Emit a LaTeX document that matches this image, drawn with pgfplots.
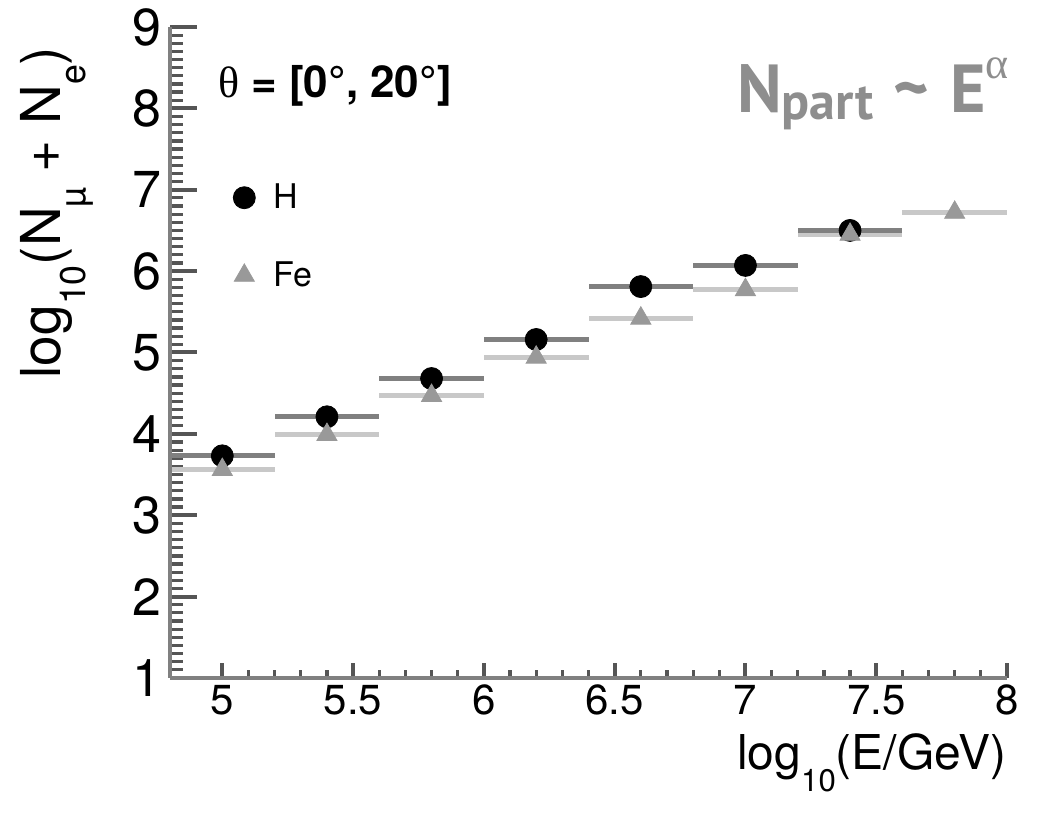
\documentclass[border=0pt]{standalone}
\usepackage{fontspec}
\setmainfont{TeX Gyre Heros}
\newfontfamily\gill{PT Sans}
\newfontfamily\symf{Liberation Serif}
\usepackage{graphicx}
\usepackage{pgfplots}
\usepackage{pgfplotstable}
\pgfplotsset{compat=1.18}
\definecolor{hbar}{HTML}{808080}
\definecolor{febar}{HTML}{C8C8C8}
\definecolor{femark}{HTML}{999999}
\definecolor{axgray}{HTML}{808080}
\definecolor{tickgray}{HTML}{555555}
\definecolor{txtgray}{HTML}{8E8E8E}
\newcommand{\lsub}[1]{\raisebox{-0.45em}{\scalebox{0.65}{#1}}}

\pgfplotstableread{
x y ex
5.0 3.73 0.2
5.4 4.21 0.2
5.8 4.68 0.2
6.2 5.16 0.2
6.6 5.81 0.2
7.0 6.07 0.2
7.4 6.50 0.2
}\Hdata
\pgfplotstableread{
x y ex
5.0 3.56 0.2
5.4 3.99 0.2
5.8 4.47 0.2
6.2 4.94 0.2
6.6 5.42 0.2
7.0 5.77 0.2
7.4 6.45 0.2
7.8 6.72 0.2
}\Fedata

\begin{document}
\begin{tikzpicture}
\begin{axis}[
  scale only axis, width=418.5pt, height=325.5pt,
  xmin=4.8, xmax=8, ymin=1, ymax=9,
  axis lines=left, axis line style={-, axgray, line width=2pt},
  tick align=inside,
  xtick=\empty,
  ytick={1,2,...,9}, minor y tick num=9,
  major tick length=13.5pt, minor tick length=6.5pt,
  major tick style={tickgray, line width=2pt},
  minor tick style={tickgray, line width=1.6pt},
  /pgf/number format/assume math mode=true,
  yticklabel style={font=\fontsize{26}{30}\selectfont, xshift=-1pt},
  ylabel={log\lsub{10}(N\lsub{µ} + N\lsub{e})},
  ylabel style={at={(axis description cs:-0.135,0.715)}, anchor=center, font=\fontsize{27.5}{32}\selectfont},
  legend style={at={(axis description cs:0.068,0.772)}, anchor=north west, draw=none, fill=none,
    font=\fontsize{17}{20}\selectfont, row sep=21pt, column sep=7pt, cells={anchor=west}},
  legend cell align=left,
]
\coordinate (ll) at (rel axis cs:0,0);
\coordinate (ur) at (rel axis cs:1,1);
\addplot[forget plot, only marks, mark=none,
  error bars/.cd, x dir=both, x explicit, error mark=none,
  error bar style={draw=febar, line width=2.6pt}]
  table[x=x, y=y, x error=ex]{\Fedata};
\addplot[only marks, mark=*, mark size=5.5pt, mark options={fill=black, draw=black},
  error bars/.cd, x dir=both, x explicit, error mark=none,
  error bar style={draw=hbar, line width=2.6pt}]
  table[x=x, y=y, x error=ex]{\Hdata};
\addlegendentry{H}
\addplot[only marks, mark=triangle*, mark size=5.8pt, mark options={fill=femark, draw=femark}]
  table[x=x, y=y]{\Fedata};
\addlegendentry{Fe}
\node[anchor=base west, inner sep=0, font=\bfseries\fontsize{22}{26}\selectfont]
  at (axis description cs:0.057,0.891) {{\mdseries\symf θ} = [0°, 20°]};
\node[anchor=base west, inner sep=0, text=txtgray, font=\gill\bfseries\fontsize{34}{38}\selectfont]
  at (axis description cs:0.677,0.869)
  {N\raisebox{-0.1em}{\fontsize{26}{28}\selectfont part}\hspace{0.3em}\textasciitilde\hspace{0.3em}E\raisebox{0.5em}{\symf\mdseries\fontsize{22}{24}\selectfont α}};
\end{axis}
\begin{axis}[
  scale only axis, width=418.5pt, height=325.5pt,
  xmin=4.8, xmax=8, ymin=1, ymax=9,
  axis lines=left, axis line style={-, axgray, line width=2pt},
  tick align=inside,
  ytick=\empty,
  xtick={5,5.5,...,8}, minor x tick num=4,
  major tick length=7.5pt, minor tick length=4pt,
  major tick style={tickgray, line width=2pt},
  minor tick style={tickgray, line width=1.6pt},
  /pgf/number format/assume math mode=true,
  xticklabel style={font=\fontsize{21}{25}\selectfont},
  xlabel={log\lsub{10}(E/GeV)},
  xlabel style={at={(axis description cs:1,-0.085)}, anchor=north east, font=\fontsize{24}{28}\selectfont, inner sep=0pt},
]
\end{axis}
\path[use as bounding box] ([shift={(-85pt,-68pt)}]ll) rectangle ([shift={(20.5pt,13.5pt)}]ur);
\end{tikzpicture}
\end{document}
